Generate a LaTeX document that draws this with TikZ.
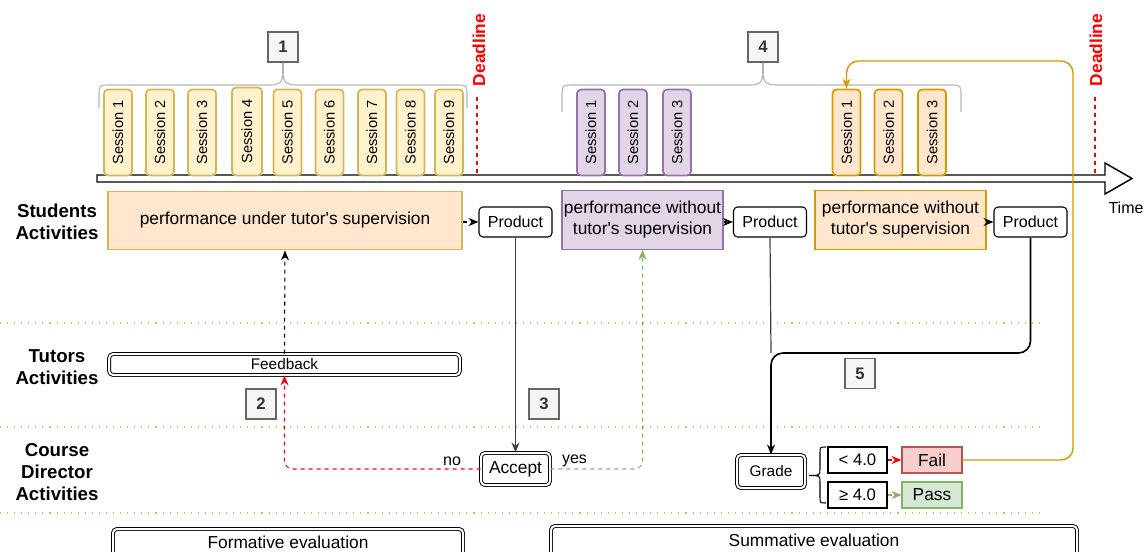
\documentclass[tikz,border=0pt]{standalone}
\usepackage{fontspec}
\setmainfont{Liberation Sans}
\usetikzlibrary{arrows.meta}

\definecolor{yelfill}{HTML}{FFF2CC}
\definecolor{yeldraw}{HTML}{D6B656}
\definecolor{orafill}{HTML}{FFE6CC}
\definecolor{oradraw}{HTML}{D79B00}
\definecolor{purfill}{HTML}{E1D5E7}
\definecolor{purdraw}{HTML}{9673A6}
\definecolor{redfill}{HTML}{F8CECC}
\definecolor{reddraw}{HTML}{B85450}
\definecolor{grnfill}{HTML}{D5E8D4}
\definecolor{grndraw}{HTML}{82B366}
\definecolor{numfill}{HTML}{F5F5F5}
\definecolor{numdraw}{HTML}{666666}
\definecolor{numtext}{HTML}{333333}
\definecolor{bracegray}{HTML}{B3B3B3}

\newcommand{\apos}{\textquotesingle}

\begin{document}
\begin{tikzpicture}[x=0.75pt,y=-0.75pt,
  every node/.style={inner sep=0pt, align=center},
  session/.style={rotate=90, minimum width=64.5pt, minimum height=21pt,
    rounded corners=3pt, line width=1.3pt, font=\fontsize{11}{12}\selectfont},
  yses/.style={session, fill=yelfill, draw=yeldraw},
  pses/.style={session, fill=purfill, draw=purdraw},
  oses/.style={session, fill=orafill, draw=oradraw},
  activity/.style={minimum height=44pt, line width=0.8pt,
    font=\fontsize{13}{15.75}\selectfont},
  product/.style={draw, fill=white, rounded corners=3pt, line width=0.8pt,
    minimum width=54.75pt, minimum height=22.5pt, font=\fontsize{12}{13}\selectfont},
  dbl/.style={draw, double, double distance=1.5pt, line width=0.7pt,
    rounded corners=3pt, fill=white},
  numbox/.style={draw=numdraw, fill=numfill, line width=0.8pt,
    minimum width=22.5pt, minimum height=22.5pt, text=numtext,
    font=\fontsize{12.5}{14}\selectfont\bfseries},
  rowlabel/.style={font=\fontsize{14}{16.5}\selectfont\bfseries},
  deadline/.style={rotate=90, text=red, font=\fontsize{13}{14}\selectfont\bfseries},
  lane/.style={draw=yeldraw, line width=0.8pt, dash pattern=on 0.8pt off 4.5pt},
  brace/.style={draw=bracegray, line width=0.8pt},
  arr/.style={-{Stealth[length=7.5pt,width=6pt]}},
  small/.style={font=\fontsize{12}{14}\selectfont}
]
\useasboundingbox (0,0) rectangle (1146,552);
\clip (0,0) rectangle (1146,552);

% lane separators
\draw[lane] (0,323) -- (1040,323);
\draw[lane] (0,427) -- (1040,427);
\draw[lane] (0,513) -- (1042,513);

% time axis
\draw[line width=1.1pt, fill=white]
  (97,175) -- (1105,175) -- (1105,163) -- (1132,178.5) -- (1105,194)
  -- (1105,182) -- (97,182) -- cycle;
\node[small] (time) at (1126,208) {Time};

% deadlines
\node[deadline] (dl1) at (479,50) {Deadline};
\draw[red, dashed, line width=0.8pt] (477,97) -- (477,175);
\node[deadline] (dl2) at (1096,50) {Deadline};
\draw[red, dashed, line width=0.8pt] (1095,97) -- (1095,175);

% first block of sessions
\node[yses] (s1) at (118,132.5) {Session 1};
\node[yses] (s2) at (160,132.5) {Session 2};
\node[yses] (s3) at (202,132.5) {Session 3};
\node[yses, minimum width=66pt, minimum height=22.5pt] (s4) at (247,131.5) {Session 4};
\node[yses] (s5) at (287.5,132.5) {Session 5};
\node[yses] (s6) at (329.5,132.5) {Session 6};
\node[yses] (s7) at (372,132.5) {Session 7};
\node[yses] (s8) at (410.5,132.5) {Session 8};
\node[yses] (s9) at (449,132.5) {Session 9};

% second and third blocks of sessions
\node[pses] (ps1) at (591,132.5) {Session 1};
\node[pses] (ps2) at (633,132.5) {Session 2};
\node[pses] (ps3) at (677,132.5) {Session 3};
\node[oses] (os1) at (846.5,132.5) {Session 1};
\node[oses] (os2) at (888.5,132.5) {Session 2};
\node[oses] (os3) at (932,132.5) {Session 3};

% numbered markers
\node[numbox] (n1) at (283,47) {1};
\node[numbox] (n4) at (763,47) {4};
\node[numbox] (n2) at (261,404) {2};
\node[numbox] (n3) at (544,404) {3};
\node[numbox] (n5) at (860,373.5) {5};

% braces over the session blocks
\draw[brace] (99,108) -- (99,96) .. controls (99,85) .. (110,85) -- (271,85)
  .. controls (280,85) and (283,81) .. (283,74) .. controls (283,81) and (286,85) .. (295,85)
  -- (456,85) .. controls (467,85) .. (467,96) -- (467,108);
\draw[brace] (283,74) -- (n1.south);
\draw[brace] (562,112) -- (562,96) .. controls (562,85) .. (573,85) -- (751,85)
  .. controls (760,85) and (763,81) .. (763,74) .. controls (763,81) and (766,85) .. (775,85)
  -- (950,85) .. controls (961,85) .. (961,96) -- (961,112);
\draw[brace] (763,74) -- (n4.south);

% row labels
\node[rowlabel] (lstud) at (57,222) {Students\\Activities};
\node[rowlabel] (ltut) at (57,367) {Tutors\\Activities};
\node[rowlabel] (lcd) at (57,472) {Course\\Director\\Activities};

% student activities
\node[activity, fill=orafill, draw=yeldraw, minimum width=265.5pt] (ob1) at (285,220.5)
  {performance under tutor\apos s supervision};
\node[activity, fill=purfill, draw=purdraw, minimum width=120.75pt] (pp) at (642.5,220)
  {performance without\\tutor\apos s supervision};
\node[activity, fill=orafill, draw=oradraw, minimum width=128.25pt] (ob2) at (900.5,220)
  {performance without\\tutor\apos s supervision};
\node[product] (p1) at (515.5,222) {Product};
\node[product] (p2) at (770,222) {Product};
\node[product] (p3) at (1030.5,222) {Product};
\draw[arr, dashed, line width=0.8pt] (ob1.east |- p1) -- (p1.west);
\draw[arr, dashed, line width=0.8pt] (pp.east |- p2) -- (p2.west);
\draw[arr, dashed, line width=0.8pt] (ob2.east |- p3) -- (p3.west);

% tutor activity
\node[dbl, minimum width=263pt, minimum height=15.75pt,
  font=\fontsize{11.5}{13}\selectfont] (fb) at (284.5,364.5) {Feedback};
\draw[arr, dashed, line width=0.8pt] (fb.north) -- (ob1.south);

% course director decisions
\node[dbl, minimum width=51.75pt, minimum height=24pt,
  font=\fontsize{13}{15}\selectfont] (acc) at (515.5,469) {Accept};
\draw[arr, line width=0.9pt, draw=black!75] (p1.south) -- (acc.north);
\draw[arr, red, dashed, line width=0.8pt, rounded corners=6pt]
  (acc.west) -| (fb.south);
\node[small] (no) at (452,461) {no};
\draw[arr, grndraw, dashed, line width=0.8pt, rounded corners=6pt]
  (acc.east) -| (pp.south);
\node[small] (yes) at (574.5,461) {yes};

\node[dbl, minimum width=51pt, minimum height=24.75pt,
  font=\fontsize{11.5}{13}\selectfont] (grade) at (771,471.5) {Grade};
\coordinate (merge) at (771,353);
\draw[line width=0.9pt, draw=black!75] (p2.south) -- (merge);
\draw[arr, line width=1.2pt, rounded corners=9pt] (p3.south) |- (merge) -- (grade.north);

% grade thresholds
\draw[line width=0.8pt] (826,447) .. controls (820,447) .. (820,453) -- (820,469)
  .. controls (820,475.5) .. (809,475.5) .. controls (820,475.5) .. (820,482)
  -- (820,497) .. controls (820,503) .. (826,503);
\node[draw, fill=white, line width=0.8pt, minimum width=44.25pt, minimum height=19.5pt,
  font=\fontsize{12.5}{14}\selectfont] (lt) at (857.5,460) {< 4.0};
\node[draw, fill=white, line width=0.8pt, minimum width=44.25pt, minimum height=19.5pt,
  font=\fontsize{12.5}{14}\selectfont] (ge) at (857.5,495) {≥ 4.0};
\node[draw=reddraw, fill=redfill, line width=0.8pt, minimum width=45pt, minimum height=19.5pt,
  font=\fontsize{13}{15}\selectfont] (fail) at (932,460) {Fail};
\node[draw=grndraw, fill=grnfill, line width=0.8pt, minimum width=45pt, minimum height=19.5pt,
  font=\fontsize{13}{15}\selectfont] (pass) at (932,495) {Pass};
\draw[arr, red, dashed, line width=0.8pt] (lt.east) -- (fail.west);
\draw[arr, grndraw, dashed, line width=0.8pt] (ge.east) -- (pass.west);

% failing sends the student back to the retake sessions (east = top of a rotated session)
\coordinate (loop) at (1073,61);
\draw[arr, oradraw, line width=1.1pt, rounded corners=9pt]
  (fail.east) -| (loop) -| (os1.east);

% evaluation phases (the boxes run past the lower edge)
\node[dbl, minimum width=262.5pt, minimum height=27pt] (form) at (288,547) {};
\node[font=\fontsize{13}{14}\selectfont] (formtxt) at (288,542) {Formative evaluation};
\node[dbl, minimum width=394.5pt, minimum height=27pt] (summ) at (814,544) {};
\node[font=\fontsize{13}{14}\selectfont] (summtxt) at (814,540) {Summative evaluation};
\end{tikzpicture}
\end{document}
